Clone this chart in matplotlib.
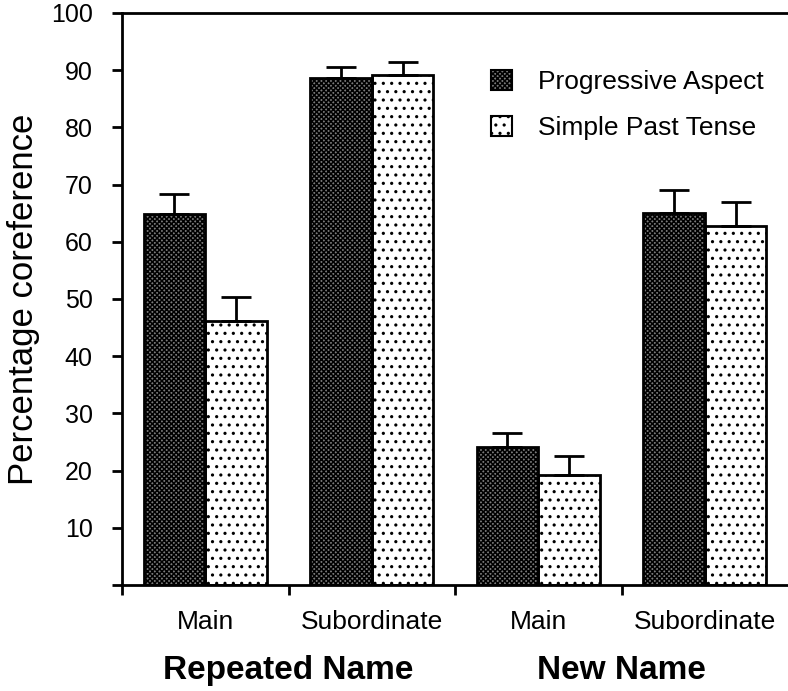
import matplotlib
matplotlib.use("Agg")
import matplotlib.pyplot as plt
from matplotlib.patches import Patch
import numpy as np

plt.rcParams['font.family'] = ['Liberation Sans', 'DejaVu Sans']
plt.rcParams['hatch.linewidth'] = 1.1

groups = ["Repeated Name", "New Name"]
clauses = ["Main", "Subordinate", "Main", "Subordinate"]
series_names = ["Progressive Aspect", "Simple Past Tense"]
prog = [64.8, 88.7, 24.2, 65.0]
prog_err = [3.6, 1.9, 2.4, 4.1]
past = [46.2, 89.1, 19.2, 62.8]
past_err = [4.1, 2.3, 3.4, 4.1]
yticks = [10, 20, 30, 40, 50, 60, 70, 80, 90, 100]

fig = plt.figure(figsize=(7.88, 6.91), dpi=100)
ax = fig.add_axes([122/788, 1-585/691, 1-122/788, (585-13)/691])

w = 0.37
centers = np.arange(len(clauses)) + 0.5
xp = centers - w/2
xs = centers + w/2

dark_kw = dict(facecolor='#7a7a7a', edgecolor='black', hatch='xxxxxxx', linewidth=0)
dot_kw = dict(facecolor='white', edgecolor='black', hatch='..', linewidth=0)

ax.bar(xp, prog, width=w, **dark_kw, zorder=2)
ax.bar(xs, past, width=w, **dot_kw, zorder=2)
ax.bar(xp, prog, width=w, facecolor='none', edgecolor='black', linewidth=2, zorder=3)
ax.bar(xs, past, width=w, facecolor='none', edgecolor='black', linewidth=2, zorder=3)

ax.errorbar(xp, prog, yerr=[np.zeros(4), prog_err], fmt='none', ecolor='black',
            elinewidth=2, capsize=11, capthick=2, zorder=4)
ax.errorbar(xs, past, yerr=[np.zeros(4), past_err], fmt='none', ecolor='black',
            elinewidth=2, capsize=11, capthick=2, zorder=4)

ax.set_xlim(0, 4)
ax.set_ylim(0, 100)
ax.set_yticks([0] + yticks)
ax.set_yticklabels([''] + [str(t) for t in yticks], fontsize=18)
ax.set_xticks([0, 1, 2, 3])
ax.set_xticklabels([])
ax.tick_params(axis='both', direction='out', length=7, width=2)
ax.tick_params(axis='y', pad=14)
for s in ['left', 'bottom', 'top']:
    ax.spines[s].set_linewidth(2)
ax.spines['right'].set_visible(False)

for c, lab in zip(centers, clauses):
    ax.text(c, -6.5, lab, ha='center', va='center', fontsize=19)
for i, g in enumerate(groups):
    ax.text(1 + 2*i, -15, g, ha='center', va='center', fontsize=24, fontweight='bold')

ax.set_ylabel("Percentage coreference", fontsize=25, labelpad=8)

handles = [Patch(**{**dark_kw, 'linewidth': 1.5}), Patch(**{**dot_kw, 'linewidth': 1.5})]
ax.legend(handles, series_names, loc='upper left', bbox_to_anchor=(0.5375, 0.919),
          frameon=False, fontsize=19, handlelength=0.8, handleheight=0.8,
          handletextpad=1.0, labelspacing=0.81, borderaxespad=0)

fig.savefig("out.png", dpi=100)
